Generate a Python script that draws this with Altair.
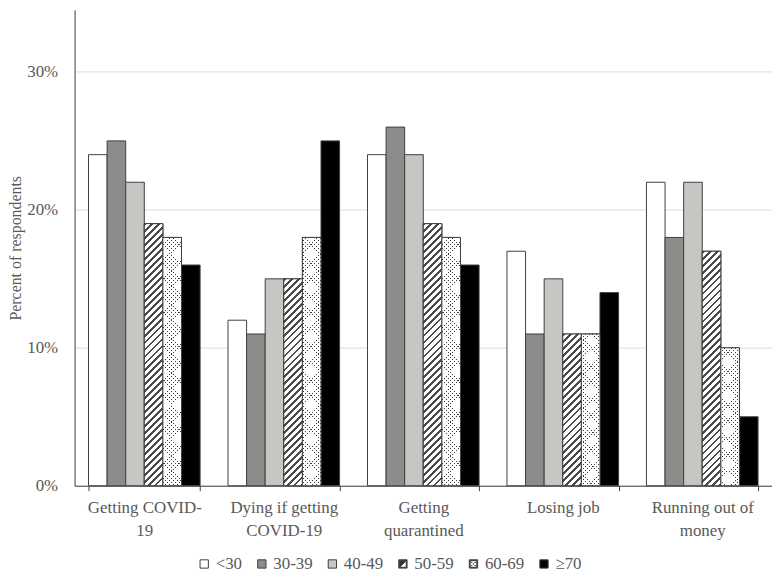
import altair as alt
import pandas as pd

categories = ["Getting COVID-19", "Dying if getting COVID-19", "Getting quarantined",
              "Losing job", "Running out of money"]
groups = ["<30", "30-39", "40-49", "50-59", "60-69", "≥70"]
values = {
    "<30":   [24, 12, 24, 17, 22],
    "30-39": [25, 11, 26, 11, 18],
    "40-49": [22, 15, 24, 15, 22],
    "50-59": [19, 15, 19, 11, 17],
    "60-69": [18, 18, 18, 11, 10],
    "≥70":   [16, 25, 16, 14, 5],
}
group_colors = ["#ffffff", "#8c8c8a", "#c6c6c3", "#333333", "#444444", "#000000"]
y_ticks = [0, 10, 20, 30]

rows = []
for g in groups:
    for c, v in zip(categories, values[g]):
        rows.append({"category": c, "group": g, "value": v})
df = pd.DataFrame(rows)

W, H = 702, 479
YMAX = 34.5
P_IN, P_OUT = 0.2, 0.1
step = W / (len(categories) - P_IN + 2 * P_OUT)
bar_w = step * (1 - P_IN) / len(groups)
px_per_unit = H / YMAX

STROKE = "#404040"
TXT = "#595959"
FONT = "Liberation Serif"
CLEAR = "rgba(255,255,255,0)"


def stripes(length, period, dark, c_dark, c_light):
    stops = []
    k = 0
    while k * period < length:
        o0 = k * period / length
        o1 = min((k * period + dark) / length, 1.0)
        o2 = min((k + 1) * period / length, 1.0)
        stops += [{"offset": o0, "color": c_dark}, {"offset": o1, "color": c_dark},
                  {"offset": o1, "color": c_light}, {"offset": o2, "color": c_light}]
        k += 1
    return stops


def diag_fill(h, period, dark, c_dark, c_light, rising=True):
    a = bar_w / h
    s = (a + 1) / (a * a + 1)
    L = bar_w + h
    if rising:
        geo = {"x1": 0, "y1": 0, "x2": s * a, "y2": s}
    else:
        geo = {"x1": 0, "y1": 1, "x2": s * a, "y2": 1 - s}
    return {"gradient": "linear", **geo,
            "stops": stripes(L, period, dark, c_dark, c_light)}


# legend swatch shapes
ring = "M-1,-1L1,-1L1,1L-1,1Z M-0.8,-0.8L-0.8,0.8L0.8,0.8L0.8,-0.8Z"


def dot(cx, cy, r=0.06):
    return (f"M{cx-r},{cy-r}L{cx+r},{cy-r}L{cx+r},{cy+r}L{cx-r},{cy+r}Z")


shape_hatch = ring + " M-0.8,-0.8L0.8,-0.8L-0.8,0.8Z"
shape_dots = ring + " " + " ".join(dot(x, y) for x, y in
                                     [(-0.4, -0.4), (0.4, -0.4), (0, 0), (-0.4, 0.4), (0.4, 0.4)])
group_shapes = ["square", "square", "square", shape_hatch, shape_dots, "square"]

label_expr = (
    "datum.label == 'Getting COVID-19' ? ['Getting COVID-', '19'] : "
    "datum.label == 'Dying if getting COVID-19' ? ['Dying if getting', 'COVID-19'] : "
    "datum.label == 'Getting quarantined' ? ['Getting', 'quarantined'] : "
    "datum.label == 'Running out of money' ? ['Running out of', 'money'] : datum.label"
)

x_enc = alt.X("category:N", sort=categories,
              scale=alt.Scale(paddingInner=P_IN, paddingOuter=P_OUT),
              axis=alt.Axis(title=None, labelAngle=0, labelExpr=label_expr,
                            labelFont=FONT, labelFontSize=17, labelColor=TXT,
                            labelLineHeight=23, labelPadding=9,
                            domainColor=STROKE, tickColor=STROKE, tickSize=5,
                            tickBand="extent", grid=False))
xo_enc = alt.XOffset("group:N", sort=groups, scale=alt.Scale(domain=groups))
y_enc = alt.Y("value:Q", scale=alt.Scale(domain=[0, YMAX], nice=False),
              axis=alt.Axis(title="Percent  of  respondents", values=y_ticks,
                            labelExpr="datum.value + '%'", ticks=False,
                            labelFont=FONT, labelFontSize=17, labelColor=TXT,
                            labelPadding=17, titleFont=FONT, titleFontSize=16,
                            titleColor=TXT, titleFontWeight="normal",
                            titleX=-59, titleBaseline="middle",
                            domainColor=STROKE, grid=True, gridColor="#dcdcdc"))

fill_scale = alt.Scale(domain=groups, range=group_colors)
legend_def = alt.Legend(title=None, orient="none", direction="horizontal",
                        columns=6, legendX=122, legendY=549,
                        symbolSize=70, symbolStrokeColor=STROKE, symbolStrokeWidth=1,
                        labelFont=FONT, labelFontSize=17, labelColor=TXT,
                        labelOffset=3, columnPadding=11, padding=0)

# hidden legend carrier: points centred low inside each bar, drawn beneath the bars
legend_layer = alt.Chart(df).mark_point(filled=True, opacity=1, strokeWidth=1,
                                        size=70).encode(
    x=x_enc, xOffset=xo_enc, y=alt.Y(datum=2),
    fill=alt.Fill("group:N", sort=groups, scale=fill_scale, legend=legend_def),
    shape=alt.Shape("group:N", sort=groups,
                    scale=alt.Scale(domain=groups, range=group_shapes), legend=legend_def),
    stroke=alt.Stroke("group:N", sort=groups,
                      scale=alt.Scale(domain=groups, range=[STROKE] * len(groups)),
                      legend=legend_def),
)

base = alt.Chart(df).mark_bar(stroke=STROKE, strokeWidth=1).encode(
    x=x_enc, xOffset=xo_enc, y=y_enc,
    fill=alt.Fill("group:N", sort=groups, scale=fill_scale, legend=legend_def),
)

layers = [legend_layer, base]
for c, v in zip(categories, values["50-59"]):
    h = v * px_per_unit
    layers.append(
        alt.Chart(df).transform_filter(
            (alt.datum.group == "50-59") & (alt.datum.category == c)
        ).mark_bar(fill=diag_fill(h, 7.0, 2.8, "#4a4a4a", "#ffffff"),
                   stroke=STROKE, strokeWidth=1).encode(
            x=x_enc, xOffset=xo_enc, y=y_enc)
    )
for c, v in zip(categories, values["60-69"]):
    h = v * px_per_unit
    flt = (alt.datum.group == "60-69") & (alt.datum.category == c)
    layers.append(
        alt.Chart(df).transform_filter(flt).mark_bar(
            fill=diag_fill(h, 3.8, 1.2, "#3a3a3a", "#ffffff", rising=True),
            strokeWidth=0).encode(x=x_enc, xOffset=xo_enc, y=y_enc)
    )
    layers.append(
        alt.Chart(df).transform_filter(flt).mark_bar(
            fill=diag_fill(h, 3.8, 1.2, CLEAR, "#ffffff", rising=False),
            stroke=STROKE, strokeWidth=1).encode(x=x_enc, xOffset=xo_enc, y=y_enc)
    )

chart = alt.layer(*layers).properties(
    width=W, height=H,
    autosize=alt.AutoSizeParams(type="none"),
    padding={"left": 67, "top": 0, "right": 0, "bottom": 88},
    background="white",
).configure_view(stroke=None)

chart.save("out.html", embed_options={"renderer": "svg", "actions": False})
